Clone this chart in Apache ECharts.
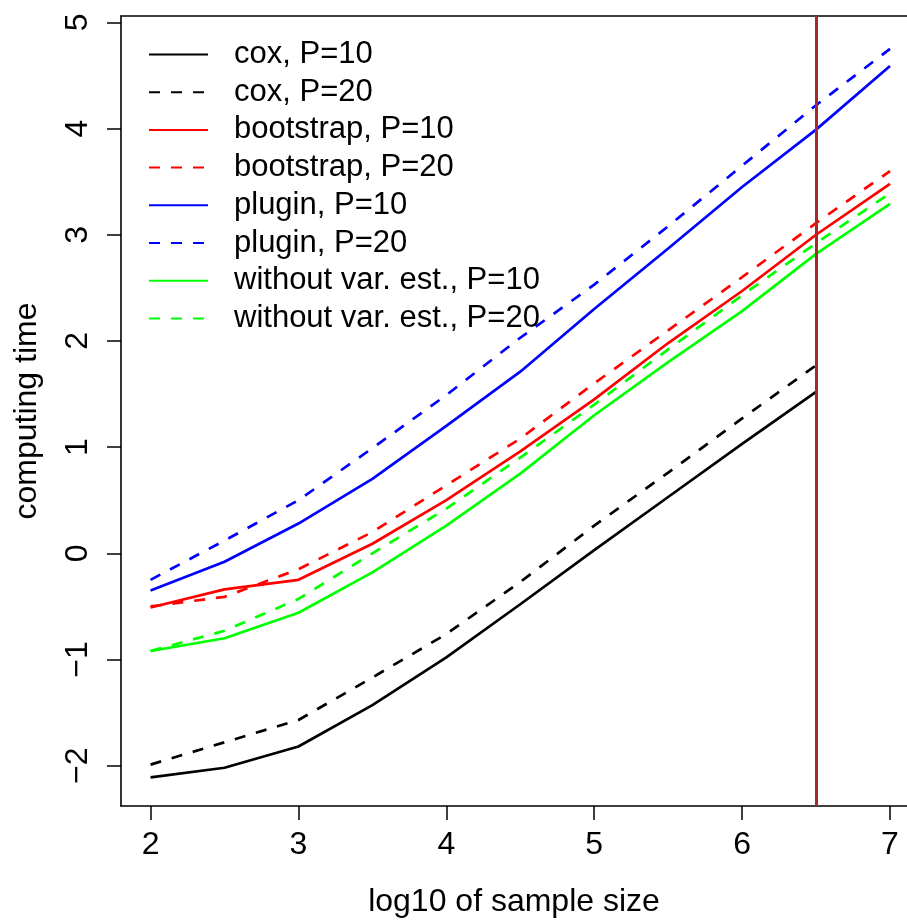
<!DOCTYPE html>
<html>
<head>
<meta charset="utf-8">
<script src="https://cdn.jsdelivr.net/npm/echarts@6/dist/echarts.min.js"></script>
<style>html,body{margin:0;padding:0;background:#fff;}#c{width:907px;height:923px;}</style>
</head>
<body>
<div id="c"></div>
<script>
const logN = [2, 2.5, 3, 3.5, 4, 4.5, 5, 5.5, 6, 6.5, 7];
const coxP10 = [-2.11, -2.02, -1.82, -1.43, -0.98, -0.48, 0.03, 0.53, 1.03, 1.52];
const coxP20 = [-1.99, -1.78, -1.57, -1.17, -0.76, -0.27, 0.26, 0.76, 1.27, 1.77];
const bootP10 = [-0.51, -0.34, -0.25, 0.09, 0.50, 0.96, 1.45, 1.98, 2.47, 3.00, 3.48];
const bootP20 = [-0.50, -0.41, -0.15, 0.20, 0.64, 1.08, 1.60, 2.10, 2.60, 3.11, 3.60];
const plugP10 = [-0.35, -0.08, 0.28, 0.70, 1.20, 1.71, 2.30, 2.87, 3.45, 3.99, 4.59];
const plugP20 = [-0.25, 0.12, 0.50, 0.99, 1.49, 2.03, 2.53, 3.08, 3.65, 4.22, 4.75];
const woP10 = [-0.92, -0.80, -0.56, -0.18, 0.26, 0.75, 1.30, 1.80, 2.28, 2.82, 3.29];
const woP20 = [-0.92, -0.73, -0.43, 0.00, 0.42, 0.90, 1.40, 1.92, 2.43, 2.92, 3.39];
const xTicks = [2, 3, 4, 5, 6, 7];
const yTicks = [-2, -1, 0, 1, 2, 3, 4, 5];
const cutoff = 6.5;

const FONT = 'Liberation Sans';
const X_MIN = 1.8, X_MAX = 7.115, Y_MIN = -2.38, Y_MAX = 5.06;
function pairs(vals) { return vals.map((v, i) => [logN[i], v]); }
function mk(name, vals, color, dashed) {
  return {
    name: name, type: 'line', data: pairs(vals), symbol: 'none', silent: true,
    lineStyle: { color: color, width: 2.7, type: dashed ? [11, 11] : 'solid', cap: 'butt' },
    itemStyle: { color: color }, animation: false, clip: false
  };
}
const series = [
  mk('cox, P=10', coxP10, '#000000', false),
  mk('cox, P=20', coxP20, '#000000', true),
  mk('bootstrap, P=10', bootP10, '#ff0000', false),
  mk('bootstrap, P=20', bootP20, '#ff0000', true),
  mk('plugin, P=10', plugP10, '#0000ff', false),
  mk('plugin, P=20', plugP20, '#0000ff', true),
  mk('without var. est., P=10', woP10, '#00ff00', false),
  mk('without var. est., P=20', woP20, '#00ff00', true)
];
series[0].markLine = {
  silent: true, symbol: ['none', 'none'], label: { show: false },
  lineStyle: { color: '#a52a2a', width: 3, type: 'solid' },
  data: [{ xAxis: cutoff }], animation: false
};

const axisLineStyle = { color: '#000', width: 1.6 };
const chart = echarts.init(document.getElementById('c'), null, { renderer: 'canvas' });
chart.setOption({
  animation: false,
  backgroundColor: '#ffffff',
  textStyle: { fontFamily: FONT },
  grid: { left: 121, top: 16, right: 0, bottom: 110, show: false, containLabel: false },
  xAxis: [{
    type: 'value', min: X_MIN, max: X_MAX, position: 'bottom',
    name: 'log10 of sample size', nameLocation: 'middle', nameGap: 80,
    nameTextStyle: { fontSize: 32, color: '#000', fontFamily: FONT },
    axisLine: { show: true, onZero: false, lineStyle: axisLineStyle },
    axisTick: { show: true, customValues: xTicks, length: 14, inside: false, lineStyle: { color: '#000', width: 1.5 } },
    axisLabel: { customValues: xTicks, fontSize: 32, color: '#000', margin: 23, fontFamily: FONT },
    splitLine: { show: false }
  }, {
    type: 'value', min: X_MIN, max: X_MAX, position: 'top',
    axisLine: { show: true, onZero: false, lineStyle: axisLineStyle },
    axisTick: { show: false }, axisLabel: { show: false }, splitLine: { show: false }
  }],
  yAxis: {
    type: 'value', min: Y_MIN, max: Y_MAX,
    name: 'computing time', nameLocation: 'middle', nameGap: 78,
    nameTextStyle: { fontSize: 32, color: '#000', fontFamily: FONT },
    axisLine: { show: true, onZero: false, lineStyle: axisLineStyle },
    axisTick: { show: true, customValues: yTicks, length: 14, inside: false, lineStyle: { color: '#000', width: 1.5 } },
    axisLabel: { customValues: yTicks, fontSize: 32, color: '#000', margin: 27, rotate: 90, fontFamily: FONT,
      formatter: v => (v < 0 ? '\u2212' + Math.abs(v) : String(v)) },
    splitLine: { show: false }
  },
  legend: {
    show: true, orient: 'vertical', left: 148, top: 39, padding: 0,
    itemWidth: 59, itemHeight: 14, itemGap: 6.7,
    itemStyle: { color: 'rgba(0,0,0,0)', borderWidth: 0, opacity: 0 },
    textStyle: { fontSize: 31, color: '#000', fontFamily: FONT, lineHeight: 31, padding: [0, 0, 0, 21] },
    data: series.map(s => s.name),
    selectedMode: false
  },
  series: series
});
</script>
</body>
</html>
